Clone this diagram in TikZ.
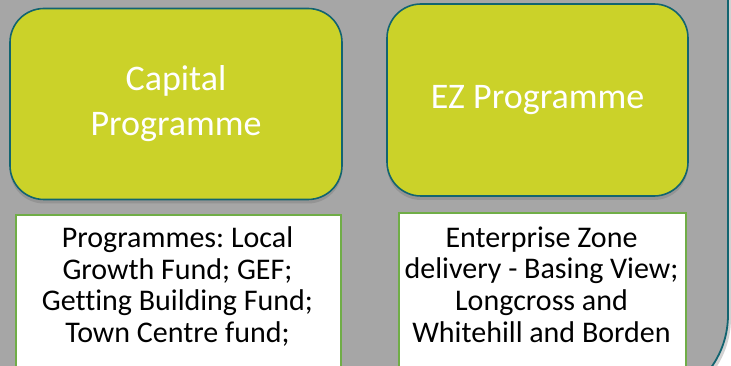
\documentclass[tikz,border=0pt]{standalone}
\usepackage{fontspec}
\setmainfont{Carlito}[Ligatures=NoCommon]
\usetikzlibrary{shadows}

\definecolor{panelgray}{RGB}{166,166,166}
\definecolor{panelteal}{RGB}{18,100,112}
\definecolor{limefill}{RGB}{203,210,41}
\definecolor{leafgreen}{RGB}{112,173,71}

\tikzset{
	progbox/.style={draw=panelteal, line width=1.6pt, fill=limefill, rounded corners=34pt,
		drop shadow={shadow xshift=0pt, shadow yshift=-4pt, opacity=0.45},
		text=white, align=center, inner sep=0pt,
		font=\fontsize{36}{45}\selectfont},
	descbox/.style={draw=leafgreen, line width=2pt, fill=white, anchor=north west, inner sep=0pt},
	desctext/.style={anchor=north, align=center, inner sep=0pt,
		font=\fontsize{30}{31.6}\selectfont\frenchspacing}
}

\begin{document}
\begin{tikzpicture}[x=1pt,y=-1pt]
		\useasboundingbox (0,0) rectangle (731,366);
		\fill[white] (0,0) rectangle (731,366);
		
		% panel behind the boxes
		\draw[draw=panelteal, line width=1.8pt, fill=panelgray, rounded corners=90pt,
			drop shadow={shadow xshift=3pt, shadow yshift=-3pt, opacity=0.35}]
			(-120,-120)--(728,-120)--(728,405)--(-120,405)--cycle;
		
		\node (cap) [progbox, minimum width=332pt, minimum height=191pt] at (176,104) {Capital\\Programme};
		\node (ez) [progbox, minimum width=301pt, minimum height=192pt] at (537.5,100) {EZ Programme};
		
		\node (capbox) [descbox, minimum width=325pt, minimum height=170pt] at (15,214) {};
		\node (ezbox) [descbox, minimum width=287pt, minimum height=170pt] at (398,212) {};
		
		\node (captext) [desctext] at (177.5,226.5) {Programmes: Local\\Growth Fund; GEF;\\Getting Building Fund;\\Town Centre fund;};
		\node (eztext) [desctext] at (541.5,226.5) {Enterprise Zone\\delivery - Basing View;\\Longcross and\\Whitehill and Borden};
	\end{tikzpicture}
\end{document}
